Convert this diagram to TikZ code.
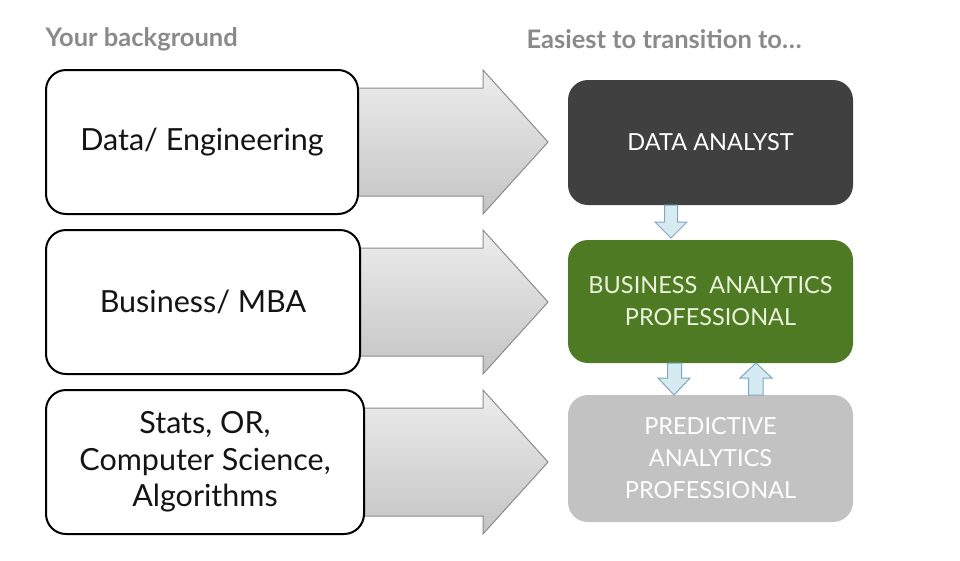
\documentclass[tikz,border=0pt]{standalone}
\usepackage{fontspec}
\setmainfont{Lato}
\usetikzlibrary{positioning}
\definecolor{hdr}{HTML}{8A8A8A}
\definecolor{darkbox}{HTML}{404040}
\definecolor{greenbox}{HTML}{4F7A24}
\definecolor{graybox}{HTML}{C2C2C2}
\definecolor{greentext}{HTML}{EAF2DA}
\definecolor{arrowtop}{HTML}{EDEDED}
\definecolor{arrowbot}{HTML}{C4C4C4}
\definecolor{arrowedge}{HTML}{8C8C8C}
\definecolor{bluefill}{HTML}{D6EAF2}
\definecolor{blueedge}{HTML}{7FA9BD}
\tikzset{
  leftbox/.style={draw=black, line width=2pt, fill=white, rounded corners=20pt, minimum width=312pt, minimum height=144pt, align=center, text=black!92, font=\fontsize{30.5}{36.5}\selectfont},
  rightbox/.style={rounded corners=20pt, minimum width=285pt, minimum height=125pt, align=center, font=\fontsize{23.5}{32}\selectfont},
  header/.style={text=hdr, font=\bfseries\fontsize{25.5}{30}\selectfont, anchor=west},
  bigarrow/.style={top color=arrowtop, bottom color=arrowbot, draw=arrowedge, line width=1pt},
  smallarrow/.style={fill=bluefill, draw=blueedge, line width=1pt}
}
\begin{document}
\begin{tikzpicture}[x=1pt,y=-1pt]
\useasboundingbox (0,0) rectangle (960,560);
\fill[white] (0,0) rectangle (960,560);

\node[header] (h1) at (42,39) {Your background};
\node[header] (h2) at (523,39) {Easiest to transition to…};

% big arrows (behind boxes)
\foreach \c/\n in {142/a1, 302/a2, 462/a3}{
  \shade[bigarrow] (350,\c-54) -- (483,\c-54) -- (483,\c-72) -- (548,\c) -- (483,\c+72) -- (483,\c+54) -- (350,\c+54) -- cycle;
}

\node[leftbox] (l1) at (202,142) {Data/ Engineering};
\node[leftbox, minimum width=314pt] (l2) at (203,302) {Business/ MBA};
\node[leftbox, minimum width=318pt] (l3) at (205,462) {Stats, OR,\\Computer Science,\\Algorithms};

\node[rightbox, fill=darkbox, text=white] (r1) at (710.5,142.5) {DATA ANALYST};
\node[rightbox, fill=greenbox, text=greentext, minimum height=123pt] (r2) at (710.5,301.5) {BUSINESS\ \ ANALYTICS\\PROFESSIONAL};
\node[rightbox, fill=graybox, text=white, minimum height=127pt] (r3) at (710.5,458.5) {PREDICTIVE\\ANALYTICS\\PROFESSIONAL};

% small arrows
\draw[smallarrow] (664.5,205) -- (677.5,205) -- (677.5,222) -- (687,222) -- (671,238) -- (655,222) -- (664.5,222) -- cycle;
\draw[smallarrow] (667.5,363) -- (681.5,363) -- (681.5,378) -- (690,378) -- (674,395) -- (658,378) -- (667.5,378) -- cycle;
\draw[smallarrow] (748.5,395) -- (763,395) -- (763,378) -- (772,378) -- (756,363) -- (740,378) -- (748.5,378) -- cycle;
\end{tikzpicture}
\end{document}
